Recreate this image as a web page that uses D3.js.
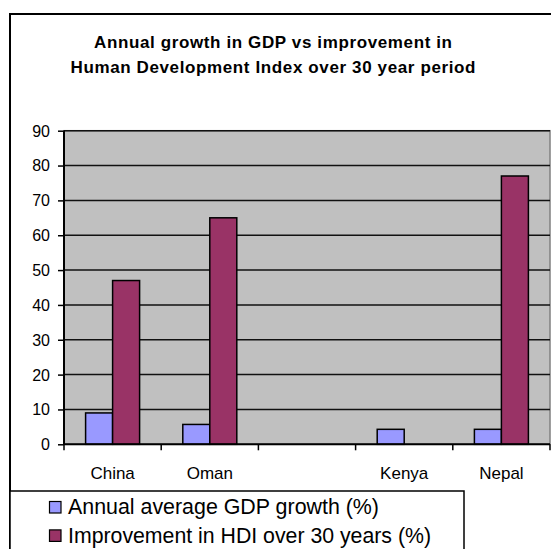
<!DOCTYPE html>
<html>
<head>
<meta charset="utf-8">
<script src="https://cdn.jsdelivr.net/npm/d3@7"></script>
<style>
  html, body { margin: 0; padding: 0; background: #fff; }
  svg { display: block; font-family: "Liberation Sans", Arial, sans-serif; }
</style>
</head>
<body>
<svg id="chart" width="551" height="549"></svg>
<script>
// ---- data ----
const categories = ["China", "Oman", " ", "Kenya", "Nepal"];
const seriesNames = ["Annual average GDP growth (%)", "Improvement in HDI over 30 years (%)"];
const gdpGrowth = [9, 5.7, null, 4.3, 4.3];
const hdiImprovement = [47, 65, null, null, 77];
const yTicks = [0, 10, 20, 30, 40, 50, 60, 70, 80, 90];
const titleLines = ["Annual growth in GDP vs improvement in", "Human Development Index over 30 year period"];
const colors = ["#9999ff", "#993366"];

const svg = d3.select("#chart");

// outer chart frame
svg.append("rect").attr("x", 10).attr("y", 14).attr("width", 600).attr("height", 600)
  .attr("fill", "#fff").attr("stroke", "#000").attr("stroke-width", 2);

// title
titleLines.forEach((t, i) => {
  svg.append("text")
    .attr("x", 273).attr("y", 48 + i * 25)
    .attr("text-anchor", "middle")
    .attr("font-weight", "bold")
    .attr("font-size", 17)
    .attr("textLength", i === 0 ? 358 : 405)
    .attr("lengthAdjust", "spacing")
    .text(t);
});

// scales
const plot = { left: 64, right: 550, top: 130.7, bottom: 444.3 };
const x = d3.scaleBand().domain(categories).range([plot.left, plot.right]).paddingInner(0).paddingOuter(0);
const x1 = d3.scaleBand().domain([0, 1]).range([0, x.bandwidth()]).paddingInner(0).paddingOuter(0.8);
const y = d3.scaleLinear().domain([0, 90]).range([plot.bottom, plot.top]);

// plot background
svg.append("rect")
  .attr("x", plot.left).attr("y", plot.top)
  .attr("width", plot.right - plot.left).attr("height", plot.bottom - plot.top)
  .attr("fill", "#c0c0c0").attr("stroke", "#808080").attr("stroke-width", 1.5);

// gridlines
svg.append("g").selectAll("line").data(yTicks.filter(d => d > 0)).join("line")
  .attr("x1", plot.left).attr("x2", plot.right)
  .attr("y1", d => y(d)).attr("y2", d => y(d))
  .attr("stroke", "#111").attr("stroke-width", 1.5);

// bars
const seriesData = [gdpGrowth, hdiImprovement];
seriesData.forEach((vals, s) => {
  svg.append("g").selectAll("rect")
    .data(categories.map((c, i) => ({ c, v: vals[i] })).filter(d => d.v != null))
    .join("rect")
    .attr("x", d => x(d.c) + x1(s))
    .attr("y", d => y(d.v))
    .attr("width", x1.bandwidth())
    .attr("height", d => y(0) - y(d.v))
    .attr("fill", colors[s])
    .attr("stroke", "#000").attr("stroke-width", 1.5);
});

// y axis
const yAxis = svg.append("g").attr("transform", `translate(${plot.left},0)`)
  .call(d3.axisLeft(y).tickValues(yTicks).tickSize(6).tickPadding(8).tickFormat(d3.format("d")));
yAxis.select(".domain").attr("stroke", "#000").attr("stroke-width", 2).attr("d", `M0,${plot.top}V${plot.bottom}`);
yAxis.selectAll(".tick line").attr("stroke", "#000").attr("stroke-width", 1.5);
yAxis.selectAll(".tick text").attr("font-size", 16).attr("fill", "#000")
  .attr("font-family", "Liberation Sans, Arial, sans-serif").attr("dy", "0.34em").attr("x", -14);

// x axis
const xAxis = svg.append("g").attr("transform", `translate(0,${plot.bottom})`)
  .call(d3.axisBottom(x).tickSize(0).tickPadding(0));
xAxis.select(".domain").remove();
svg.append("line").attr("x1", plot.left).attr("x2", plot.right)
  .attr("y1", plot.bottom).attr("y2", plot.bottom).attr("stroke", "#000").attr("stroke-width", 2);
// boundary ticks between categories
const boundaries = categories.map(c => x(c)).concat([plot.right]);
svg.append("g").selectAll("line").data(boundaries).join("line")
  .attr("x1", d => d).attr("x2", d => d)
  .attr("y1", plot.bottom).attr("y2", plot.bottom + 6)
  .attr("stroke", "#000").attr("stroke-width", 1.5);
xAxis.selectAll(".tick text").attr("font-size", 17).attr("fill", "#000")
  .attr("font-family", "Liberation Sans, Arial, sans-serif").attr("dy", 0).attr("y", 35);

// legend
svg.append("rect").attr("x", 10).attr("y", 491).attr("width", 454).attr("height", 100)
  .attr("fill", "#fff").attr("stroke", "#000").attr("stroke-width", 1.5);
const leg = svg.append("g").selectAll("g").data(seriesNames).join("g")
  .attr("transform", (d, i) => `translate(0,${i * 28.4})`);
leg.append("rect").attr("x", 49.5).attr("y", 501.5).attr("width", 11.5).attr("height", 11.5)
  .attr("fill", (d, i) => colors[i]).attr("stroke", "#000").attr("stroke-width", 1.2);
leg.append("text").attr("x", 68).attr("y", 514.3).attr("font-size", 21.4)
  .attr("textLength", (d, i) => i === 0 ? 311 : 363).attr("lengthAdjust", "spacingAndGlyphs")
  .text(d => d);
</script>
</body>
</html>
